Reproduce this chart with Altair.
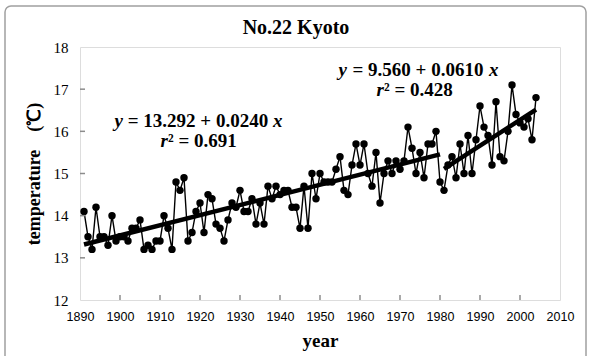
import altair as alt
import pandas as pd

# ---- data ----
years = list(range(1891, 2005))
temps = [
    14.1, 13.5, 13.2, 14.2, 13.5, 13.5, 13.3, 14.0, 13.4, 13.5,   # 1891-1900
    13.5, 13.4, 13.7, 13.7, 13.9, 13.2, 13.3, 13.2, 13.4, 13.4,   # 1901-1910
    14.0, 13.7, 13.2, 14.8, 14.6, 14.9, 13.4, 13.6, 14.1, 14.3,   # 1911-1920
    13.6, 14.5, 14.4, 13.8, 13.7, 13.4, 13.9, 14.3, 14.2, 14.6,   # 1921-1930
    14.1, 14.1, 14.4, 13.8, 14.3, 13.8, 14.7, 14.4, 14.7, 14.5,   # 1931-1940
    14.6, 14.6, 14.2, 14.2, 13.7, 14.7, 13.7, 15.0, 14.4, 15.0,   # 1941-1950
    14.8, 14.8, 14.8, 15.1, 15.4, 14.6, 14.5, 15.2, 15.7, 15.2,   # 1951-1960
    15.7, 15.0, 14.7, 15.5, 14.3, 15.0, 15.3, 15.0, 15.3, 15.1,   # 1961-1970
    15.3, 16.1, 15.6, 15.0, 15.5, 14.9, 15.7, 15.7, 16.0, 14.8,   # 1971-1980
    14.6, 15.2, 15.4, 14.9, 15.7, 15.0, 15.9, 15.0, 15.8, 16.6,   # 1981-1990
    16.1, 15.9, 15.2, 16.7, 15.4, 15.3, 16.0, 17.1, 16.4, 16.2,   # 1991-2000
    16.1, 16.3, 15.8, 16.8,                                       # 2001-2004
]
x_tick_values = [1890, 1900, 1910, 1920, 1930, 1940, 1950, 1960, 1970, 1980, 1990, 2000, 2010]
y_tick_values = [12, 13, 14, 15, 16, 17, 18]
x_inner_ticks = x_tick_values[1:-1]
y_inner_ticks = y_tick_values[1:-1]

# regression fits (x = year - 1890)
fit1_a, fit1_b, fit1_start, fit1_end = 13.292, 0.0240, 1891, 1980
fit2_a, fit2_b, fit2_start, fit2_end = 9.560, 0.0610, 1981, 2004

title_text = "No.22 Kyoto"
x_title = "year"
y_title = "temperature\u3000(\u2103)"

df = pd.DataFrame({"year": years, "temp": temps})
fit_years = [fit1_start, fit1_end, fit2_start, fit2_end]
fit_df = pd.DataFrame({
    "year": fit_years,
    "temp": [fit1_a + fit1_b * (y - 1890) for y in fit_years[:2]]
            + [fit2_a + fit2_b * (y - 1890) for y in fit_years[2:]],
    "seg": ["a", "a", "b", "b"],
})
one = pd.DataFrame({"k": [0]})

GRAY = "#8c8c8c"
SERIF = "Liberation Serif"

xs = alt.Scale(domain=[1890, 2010], nice=False, zero=False)
ys = alt.Scale(domain=[12, 18], nice=False, zero=False)

x_axis = alt.Axis(values=x_tick_values, format="d", ticks=False, domain=False, grid=False,
                  labelFont="Liberation Sans", labelFontSize=12.5, labelColor="black",
                  labelPadding=10, labelFlush=False, labelOverlap=False,
                  title=x_title, titleFont=SERIF, titleFontSize=19, titleFontWeight="bold",
                  titleColor="black", titlePadding=9)
y_axis = alt.Axis(values=y_tick_values, format="d", ticks=False, domain=False, grid=False,
                  labelFont=SERIF, labelFontSize=15, labelColor="black", labelPadding=12,
                  labelFlush=False, labelOverlap=False,
                  title=y_title, titleFont=SERIF, titleFontSize=18, titleFontWeight="bold",
                  titleColor="black", titlePadding=10)


def X(field=None, **kw):
    return alt.X(field, scale=xs, axis=x_axis, **kw) if field else alt.X(scale=xs, axis=x_axis, **kw)


def Y(field=None, **kw):
    return alt.Y(field, scale=ys, axis=y_axis, **kw) if field else alt.Y(scale=ys, axis=y_axis, **kw)


base = alt.Chart(df).encode(x=X("year:Q"), y=Y("temp:Q"))
line = base.mark_line(color="black", strokeWidth=1.4)
pts = base.mark_circle(color="black", size=55, opacity=1)

fit = alt.Chart(fit_df).mark_line(color="black", strokeWidth=4.5).encode(
    x=X("year:Q"), y=Y("temp:Q"), detail="seg:N")

xt = alt.Chart(pd.DataFrame({"year": x_inner_ticks})).mark_rule(color=GRAY, strokeWidth=1.5).encode(
    x=X("year:Q"), y=alt.value(253), y2=alt.value(248))
yt = alt.Chart(pd.DataFrame({"temp": y_inner_ticks})).mark_rule(color=GRAY, strokeWidth=1.5).encode(
    y=Y("temp:Q"), x=alt.value(0), x2=alt.value(5))


def txt(s, xv, yv, dx, align, italic=False, size=19):
    return alt.Chart(one).mark_text(
        text=s, font=SERIF, fontSize=size, fontWeight="bold",
        fontStyle="italic" if italic else "normal", align=align, baseline="middle",
        dx=dx, color="black").encode(x=X(datum=xv), y=Y(datum=yv))


eq1_x, eq1_y1, eq1_y2 = 1919.5, 16.25, 15.78
eq2_x, eq2_y1, eq2_y2 = 1973.5, 17.45, 16.98
eq1 = f"= {fit1_a:.3f} + {fit1_b:.4f}"
eq2 = f"= {fit2_a:.3f} + {fit2_b:.4f}"
texts = [
    txt(eq1, eq1_x, eq1_y1, 0, "center"),
    txt("y", eq1_x, eq1_y1, -75, "right", True),
    txt("x", eq1_x, eq1_y1, 75, "left", True),
    txt("r", eq1_x, eq1_y2, -30, "right", True),
    txt("\u00b2 = 0.691", eq1_x, eq1_y2, -30, "left"),
    txt(eq2, eq2_x, eq2_y1, 4, "center"),
    txt("y", eq2_x, eq2_y1, -67, "right", True),
    txt("x", eq2_x, eq2_y1, 75, "left", True),
    txt("r", eq2_x, eq2_y2, -30, "right", True),
    txt("\u00b2 = 0.428", eq2_x, eq2_y2, -30, "left"),
]

title = alt.Chart(one).mark_text(text=title_text, font=SERIF, fontSize=20, fontWeight="bold",
                                 align="center", baseline="middle", color="black").encode(
    x=alt.value(216), y=alt.value(-19))

border = alt.Chart(one).mark_rect(fillOpacity=0, stroke="#a0a0a0", strokeWidth=1.5,
                                  cornerRadius=6).encode(
    x=alt.value(-75), x2=alt.value(506), y=alt.value(-41), y2=alt.value(330))

chart = alt.layer(line, pts, border, xt, yt, fit, title, *texts).properties(
    width=480, height=253,
    autosize=alt.AutoSizeParams(type="none"),
    padding={"left": 80, "top": 47, "right": 31, "bottom": 56},
).configure_view(stroke=GRAY, strokeWidth=2).configure(background="white")

chart.save("out.html", embed_options={"renderer": "svg", "actions": False})
